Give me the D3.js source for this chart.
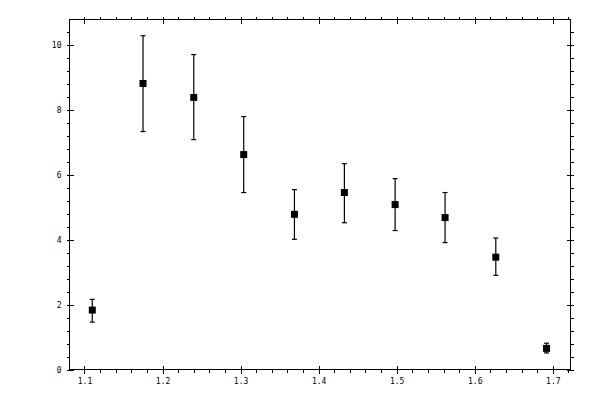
<!DOCTYPE html>
<html>
<head>
<meta charset="utf-8">
<script src="https://cdn.jsdelivr.net/npm/d3@7"></script>
<style>
body{margin:0;background:#fff;}
svg{display:block;}
.axis text{font-family:"DejaVu Sans Mono",monospace;font-size:8px;fill:#000;}
.axis path,.axis line{stroke:#000;stroke-width:1;shape-rendering:crispEdges;}
</style>
</head>
<body>
<svg id="canvas" width="600" height="400"></svg>
<script>
// data
let xs=[1.110,1.175,1.240,1.304,1.369,1.433,1.498,1.562,1.627,1.692];
let ys=[1.83,8.81,8.38,6.62,4.78,5.45,5.08,4.68,3.46,0.65];
let yHi=[2.16,10.28,9.70,7.79,5.54,6.34,5.88,5.45,4.05,0.81];
let yLo=[1.46,7.33,7.08,5.45,4.01,4.52,4.28,3.91,2.90,0.51];
let xTicks=[1.1,1.2,1.3,1.4,1.5,1.6,1.7];
let yTicks=[0,2,4,6,8,10];

let canvas=d3.select("#canvas");
let padL=69.5,padR=570.5,padT=19.5,padB=369.5;

let xScale=d3.scaleLinear().domain([1.0808,1.7227]).range([padL,padR]);
let yScale=d3.scaleLinear().domain([0,10.78]).range([padB,padT]);

let xMinor=d3.range(1.08,1.7227,0.02).filter(v=>v>=1.0808);
let yMinor=d3.range(0,10.78,0.4);

// frame
canvas.append("rect").attr("x",padL).attr("y",padT).attr("width",padR-padL).attr("height",padB-padT)
  .attr("fill","none").attr("stroke","#000").attr("stroke-width",1).style("shape-rendering","crispEdges");

// minor ticks (outside), major ticks (crossing)
let addAxis=(axis,tr,major,orient)=>{
  let g=canvas.append("g").attr("class","axis").attr("transform",tr).call(axis);
  g.select(".domain").remove();
  if(major){
    g.selectAll(".tick line").each(function(){
      let l=d3.select(this);
      if(orient=="left"){l.attr("x1",4).attr("x2",-3);}
      if(orient=="right"){l.attr("x1",-4).attr("x2",3);}
      if(orient=="bottom"){l.attr("y1",-4).attr("y2",4);}
      if(orient=="top"){l.attr("y1",4).attr("y2",-3);}
    });
  }
  return g;
};

addAxis(d3.axisBottom(xScale).tickValues(xMinor).tickSize(3).tickFormat(""),"translate(0,"+padB+")",false);
addAxis(d3.axisTop(xScale).tickValues(xMinor).tickSize(3).tickFormat(""),"translate(0,"+padT+")",false);
addAxis(d3.axisLeft(yScale).tickValues(yMinor).tickSize(3).tickFormat(""),"translate("+padL+",0)",false);
addAxis(d3.axisRight(yScale).tickValues(yMinor).tickSize(3).tickFormat(""),"translate("+padR+",0)",false);

addAxis(d3.axisBottom(xScale).tickValues(xTicks).tickSize(4).tickPadding(5).tickFormat(d3.format(".1f")),"translate(0,"+padB+")",true,"bottom");
addAxis(d3.axisTop(xScale).tickValues(xTicks).tickSize(4).tickFormat(""),"translate(0,"+padT+")",true,"top");
addAxis(d3.axisLeft(yScale).tickValues(yTicks).tickSize(4).tickPadding(4).tickFormat(d3.format("d")),"translate("+padL+",0)",true,"left");
addAxis(d3.axisRight(yScale).tickValues(yTicks).tickSize(4).tickFormat(""),"translate("+padR+",0)",true,"right");

// error bars
let pts=canvas.append("g").selectAll("g").data(xs).enter().append("g");
pts.append("line").attr("x1",(d)=>xScale(d)).attr("x2",(d)=>xScale(d))
  .attr("y1",(d,i)=>yScale(yHi[i])).attr("y2",(d,i)=>yScale(yLo[i]))
  .attr("stroke","#000").attr("stroke-width",1.2);
pts.append("line").attr("x1",(d)=>xScale(d)-2.5).attr("x2",(d)=>xScale(d)+2.5)
  .attr("y1",(d,i)=>yScale(yHi[i])).attr("y2",(d,i)=>yScale(yHi[i]))
  .attr("stroke","#000").attr("stroke-width",1.2);
pts.append("line").attr("x1",(d)=>xScale(d)-2.5).attr("x2",(d)=>xScale(d)+2.5)
  .attr("y1",(d,i)=>yScale(yLo[i])).attr("y2",(d,i)=>yScale(yLo[i]))
  .attr("stroke","#000").attr("stroke-width",1.2);
pts.append("rect").attr("x",(d)=>xScale(d)-3.5).attr("y",(d,i)=>yScale(ys[i])-3.5)
  .attr("width",7).attr("height",7).attr("fill","#000");
</script>
</body>
</html>
